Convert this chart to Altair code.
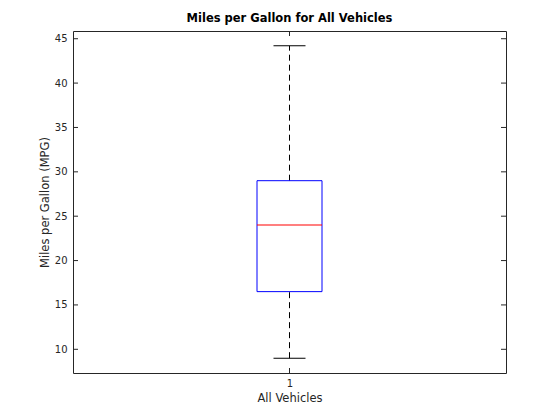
import altair as alt
import pandas as pd

category = ["1"]
lower_whisker = [9.0]
q1 = [16.5]
median = [24.0]
q3 = [29.0]
upper_whisker = [44.2]
y_ticks = [10, 15, 20, 25, 30, 35, 40, 45]

df = pd.DataFrame({"x": [1.0], "lw": lower_whisker, "q1": q1, "med": median,
                   "q3": q3, "uw": upper_whisker})
ticks_df = pd.DataFrame({"t": y_ticks})

FONT = "DejaVu Sans"
AX = "#262626"
x_scale = alt.Scale(domain=[0.5, 1.5], nice=False, zero=False)
y_scale = alt.Scale(domain=[7.33, 45.87], nice=False, zero=False)

base = alt.Chart(df)

x_enc = alt.X("x:Q", scale=x_scale,
              axis=alt.Axis(values=[1], format="d", ticks=False, domain=False, grid=False,
                            title="All Vehicles", labelPadding=5, titlePadding=4,
                            labelFont=FONT, titleFont=FONT, labelFontSize=10, titleFontSize=11.5,
                            labelColor=AX, titleColor=AX, titleFontWeight="normal"))

whisk_lo = base.mark_rule(color="black", strokeDash=[6, 4], strokeWidth=1).encode(
    x=x_enc, y=alt.Y("lw:Q", scale=y_scale,
                     axis=alt.Axis(values=y_ticks, ticks=False, domain=False, grid=False,
                                   title="Miles per Gallon (MPG)", labelPadding=6, titlePadding=4,
                                   labelFont=FONT, titleFont=FONT, labelFontSize=10, titleFontSize=11.5,
                                   labelColor=AX, titleColor=AX, titleFontWeight="normal")),
    y2="q1:Q")
whisk_hi = base.mark_rule(color="black", strokeDash=[6, 4], strokeWidth=1).encode(
    x="x:Q", y="q3:Q", y2="uw:Q")
cap_lo = base.mark_tick(color="black", orient="horizontal", size=32, thickness=1, opacity=1).encode(
    x="x:Q", y="lw:Q")
cap_hi = base.mark_tick(color="black", orient="horizontal", size=32, thickness=1, opacity=1).encode(
    x="x:Q", y="uw:Q")
box = base.mark_bar(fill=None, fillOpacity=0, stroke="blue", strokeWidth=1, size=65,
                    orient="vertical", opacity=1).encode(x="x:Q", y="q1:Q", y2="q3:Q")
med = base.mark_tick(color="red", orient="horizontal", size=65, thickness=1, opacity=1).encode(
    x="x:Q", y="med:Q")

tk = alt.Chart(ticks_df)
left_ticks = tk.mark_rule(color=AX, strokeWidth=1).encode(
    x=alt.value(0), x2=alt.value(5), y="t:Q")
right_ticks = tk.mark_rule(color=AX, strokeWidth=1).encode(
    x=alt.value(428), x2=alt.value(433), y="t:Q")
bot_tick = base.mark_rule(color=AX, strokeWidth=1).encode(
    x="x:Q", y=alt.value(337), y2=alt.value(342))
top_tick = base.mark_rule(color=AX, strokeWidth=1).encode(
    x="x:Q", y=alt.value(0), y2=alt.value(5))

chart = alt.layer(whisk_lo, whisk_hi, cap_lo, cap_hi, box, med,
                  left_ticks, right_ticks, bot_tick, top_tick).properties(
    width=433, height=342,
    background="white",
    title=alt.Title("Miles per Gallon for All Vehicles", font=FONT, fontSize=11.5,
                    fontWeight="bold", color="black", offset=6),
    autosize=alt.AutoSizeParams(type="none"),
    padding={"left": 65, "top": 23, "right": 46, "bottom": 40},
).configure_view(stroke=AX, strokeWidth=1)

chart.save("out.html", embed_options={"renderer": "svg", "actions": False})
